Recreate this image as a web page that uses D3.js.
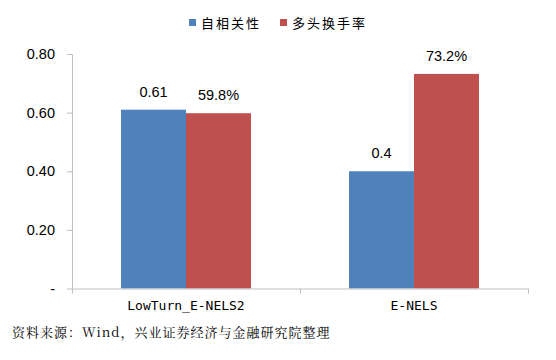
<!DOCTYPE html>
<html><head><meta charset="utf-8">
<script src="https://cdn.jsdelivr.net/npm/d3@7"></script>
<style>body{margin:0;background:#fff}svg{display:block}</style>
</head><body>
<script>
const categories = ["LowTurn_E-NELS2", "E-NELS"];
const seriesNames = ["自相关性", "多头换手率"];
const autocorr = [0.61, 0.40];
const turnover = [0.598, 0.732];
const labelsAuto = ["0.61", "0.4"];
const labelsTurn = ["59.8%", "73.2%"];
const yTicks = [0, 0.2, 0.4, 0.6, 0.8];
const yTickLabels = ["-", "0.20", "0.40", "0.60", "0.80"];
const colors = ["#4f81bd", "#c0504d"];
const source = "资料来源：Wind，兴业证券经济与金融研究院整理";

(function () {
const W = 556, H = 360;
const svg = d3.select("body").append("svg").attr("width", W).attr("height", H);
const pL = 72, pR = 528, pT = 54, pB = 288.5;
const y = d3.scaleLinear().domain([0, 0.8]).range([pB, pT]);
const x0 = d3.scaleBand().domain(categories).range([pL, pR]).paddingInner(0.43).paddingOuter(0.215);
const x1 = d3.scaleBand().domain(seriesNames).range([0, x0.bandwidth()]);

const rows = categories.map((c, i) => ({cat: c, vals: [
  {s: seriesNames[0], v: autocorr[i], lab: labelsAuto[i]},
  {s: seriesNames[1], v: turnover[i], lab: labelsTurn[i]}]}));

const g = svg.append("g");
const grp = g.selectAll("g.grp").data(rows).join("g").attr("transform", d => `translate(${x0(d.cat)},0)`);
grp.selectAll("rect").data(d => d.vals).join("rect")
  .attr("x", d => x1(d.s)).attr("width", x1.bandwidth())
  .attr("y", d => y(d.v)).attr("height", d => y(0) - y(d.v))
  .attr("fill", (d, i) => colors[i]);
grp.selectAll("text").data(d => d.vals).join("text")
  .attr("x", d => x1(d.s) + x1.bandwidth() / 2).attr("y", d => y(d.v) - 13)
  .attr("text-anchor", "middle").attr("font-family", "Liberation Sans, Arial, sans-serif")
  .attr("font-size", 14.5).attr("fill", "#000").text(d => d.lab);

// y axis
const yAxis = d3.axisLeft(y).tickValues(yTicks).tickFormat((d, i) => yTickLabels[i]).tickSize(5).tickPadding(12);
const ya = svg.append("g").attr("transform", `translate(${pL},0)`).call(yAxis);
ya.select(".domain").attr("stroke", "#bfbfbf").attr("d", `M-5,${pT}.5H0.5V${pB}`);
ya.selectAll(".tick line").attr("stroke", "#bfbfbf");
ya.selectAll(".tick text").attr("font-family", "Liberation Sans, Arial, sans-serif").attr("font-size", 14.5).attr("fill", "#000");

// x axis
const xa = svg.append("g").attr("transform", `translate(0,${pB})`);
xa.append("line").attr("x1", pL).attr("x2", pR).attr("y1", 0.5).attr("y2", 0.5).attr("stroke", "#bfbfbf");
const bounds = [pL, ...categories.map(c => x0(c) + x0.bandwidth() + x0.step() * x0.paddingInner() / 2)];
bounds[bounds.length - 1] = pR;
xa.selectAll("line.tk").data(bounds).join("line").attr("class", "tk")
  .attr("x1", d => Math.round(d) + 0.5).attr("x2", d => Math.round(d) + 0.5).attr("y1", 0).attr("y2", 5).attr("stroke", "#bfbfbf");
xa.selectAll("text").data(categories).join("text")
  .attr("x", d => x0(d) + x0.bandwidth() / 2).attr("y", 21)
  .attr("text-anchor", "middle").attr("font-family", "DejaVu Sans Mono, monospace").attr("font-size", 13).attr("fill", "#000")
  .text(d => d);

// legend
const leg = svg.append("g").attr("transform", "translate(189,23)");
const legX = [0, 91];
seriesNames.forEach((s, i) => {
  const li = leg.append("g").attr("transform", `translate(${legX[i]},0)`);
  li.append("rect").attr("x", 0).attr("y", -4).attr("width", 7).attr("height", 7).attr("fill", colors[i]);
  li.append("text").attr("x", 12).attr("y", 5).attr("font-family", "Noto Sans CJK SC, sans-serif")
    .attr("font-size", 13).attr("letter-spacing", 2).attr("fill", "#000").text(s);
});

// source
svg.append("text").attr("x", 12).attr("y", 337).attr("font-family", "Noto Serif CJK SC, Noto Sans CJK SC, serif")
  .attr("font-size", 13).attr("letter-spacing", 1).attr("fill", "#000").text(source);
})();
</script>
</body></html>
